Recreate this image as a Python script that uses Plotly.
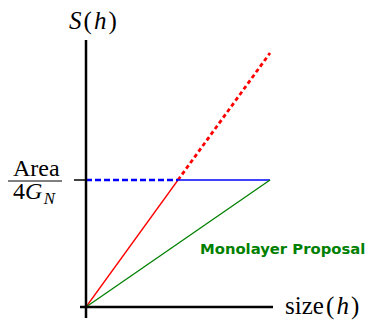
import plotly.graph_objects as go

# Entropy curves S(h) against subsystem size, in units where the
# horizon area bound Area/4G_N sits at S = 1.
size_growth = [0.0, 0.5]        # linear (volume-law) growth up to the bound
entropy_growth = [0.0, 1.0]
size_extrap = [0.5, 1.0]        # naive continuation beyond the bound
entropy_extrap = [1.0, 2.0]
size_bound_lo = [0.0, 0.5]      # area bound, before saturation
size_bound_hi = [0.5, 1.0]      # area bound, saturated plateau
entropy_bound = [1.0, 1.0]
size_mono = [0.0, 1.0]          # monolayer proposal
entropy_mono = [0.0, 1.0]

W, H = 370, 320
X0, Y0 = 86, 307          # origin in pixels
SX, SY = 184, 127         # pixels per unit


def px(x):
    return x / W


def py(y):
    return 1 - y / H


fig = go.Figure()

fig.add_trace(go.Scatter(x=size_growth, y=entropy_growth, mode="lines",
                         line=dict(color="#ff0000", width=1.3)))
fig.add_trace(go.Scatter(x=size_extrap, y=entropy_extrap, mode="lines",
                         line=dict(color="#ff0000", width=2.8, dash="4px,3px")))
fig.add_trace(go.Scatter(x=size_bound_lo, y=entropy_bound, mode="lines",
                         line=dict(color="#0000ff", width=2.6, dash="6px,3px")))
fig.add_trace(go.Scatter(x=size_bound_hi, y=entropy_bound, mode="lines",
                         line=dict(color="#0000ff", width=1.3)))
fig.add_trace(go.Scatter(x=size_mono, y=entropy_mono, mode="lines",
                         line=dict(color="#008000", width=1.3)))

# hand-drawn style axes
axis_line = dict(color="black", width=2.5)
fig.add_shape(type="line", x0=0, x1=0, y0=-11 / SY, y1=(Y0 - 40) / SY,
              line=axis_line)
fig.add_shape(type="line", x0=-6 / SX, x1=(273 - X0) / SX, y0=0, y1=0,
              line=axis_line)
fig.add_shape(type="line", x0=-12 / SX, x1=0, y0=1, y1=1,
              line=dict(color="black", width=1.5))


def label(x, y, text, size, family="Liberation Serif", color="black"):
    fig.add_annotation(x=px(x), y=py(y), xref="paper", yref="paper",
                       xanchor="center", yanchor="middle",
                       text=text, showarrow=False,
                       font=dict(family=family, size=size, color=color))


label(93, 21, "<i>S</i>\u200a(\u200a<i>h</i>\u200a)", 25)
label(322, 306, "size\u200a(\u200a<i>h</i>\u200a)", 25)
label(36.5, 168, "Area", 24)
fig.add_shape(type="line", xref="paper", yref="paper",
              x0=px(8), x1=px(62), y0=py(181), y1=py(181),
              line=dict(color="black", width=1))
label(34, 193, "4<i>G</i><sub>\u200a<i>N</i></sub>", 24)
label(282, 248, "<b>Monolayer Proposal</b>", 14.8,
      family="DejaVu Sans", color="#008000")

fig.update_layout(
    width=W, height=H,
    margin=dict(l=0, r=0, t=0, b=0),
    paper_bgcolor="white", plot_bgcolor="white",
    showlegend=False,
    xaxis=dict(range=[-X0 / SX, (W - X0) / SX], visible=False, fixedrange=True),
    yaxis=dict(range=[(Y0 - H) / SY, Y0 / SY], visible=False, fixedrange=True),
)

fig.write_html("out.html")
